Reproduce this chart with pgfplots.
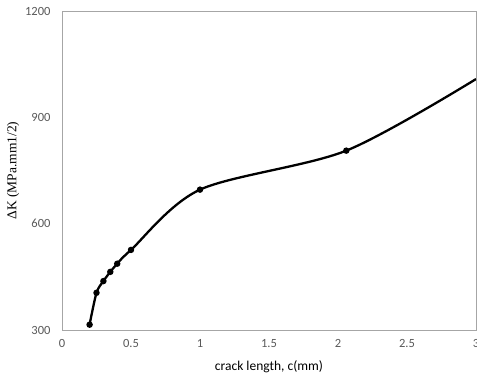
\documentclass[border=0pt]{standalone}
\usepackage{pgfplots}
\pgfplotsset{compat=1.18}
\usepackage{fontspec}
\setmainfont{Carlito}
\newfontfamily\serifface{Liberation Serif}
\definecolor{tickgray}{HTML}{595959}
\definecolor{framegray}{HTML}{A6A6A6}

% stress intensity range against crack length
\pgfplotstableread{
c     dK
0.20  315
0.25  405
0.30  438
0.35  464
0.40  487
0.50  526
1.00  696
2.06  806
3.00  1008
}\dKdata

\begin{document}
\begin{tikzpicture}
\begin{axis}[
  scale only axis,
  width=414pt, height=319pt,
  xmin=0, xmax=3, ymin=300, ymax=1200,
  xtick={0,0.5,1,1.5,2,2.5,3},
  ytick={300,600,900,1200},
  tick style={draw=none},
  axis line style={framegray, line width=0.9pt},
  /pgf/number format/assume math mode=true,
  /pgf/number format/1000 sep={},
  ticklabel style={font=\fontsize{12.5}{14}\selectfont, text=tickgray},
  xticklabel style={yshift=-6pt},
  yticklabel style={xshift=-8pt},
  xlabel={crack length, c(mm)},
  xlabel style={font=\fontsize{13.5}{16}\selectfont, text=black,
    at={(axis description cs:0.5,-0.116)}, anchor=center},
  ylabel={\serifface ΔK (MPa.mm1/2)},
  ylabel style={font=\fontsize{13.5}{16}\selectfont, text=black,
    at={(axis description cs:-0.118,0.5)}, anchor=center, rotate=0},
  clip=true,
]
\coordinate (bl) at (rel axis cs:0,0);
\coordinate (tr) at (rel axis cs:1,1);
\addplot[black, line width=2.3pt, smooth, tension=0.5,
  mark=*, mark size=2pt, mark indices={1,2,3,4,5,6,7,8}]
  table[x=c, y=dK] {\dKdata};
\end{axis}
\pgfresetboundingbox
\path ([xshift=-62pt,yshift=-45pt]bl) rectangle ([xshift=1pt,yshift=11pt]tr);
\end{tikzpicture}
\end{document}
